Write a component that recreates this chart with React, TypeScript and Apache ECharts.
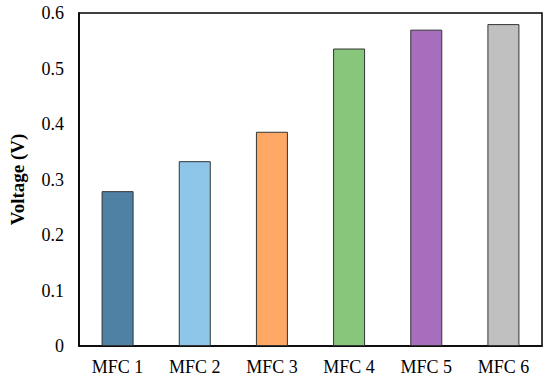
import React, { useEffect, useRef } from "react";
import * as echarts from "echarts";

const categories = ["MFC 1", "MFC 2", "MFC 3", "MFC 4", "MFC 5", "MFC 6"];
const voltages = [0.279, 0.333, 0.386, 0.536, 0.57, 0.58];
const barColors = ["#4F81A5", "#8EC6EA", "#FFA866", "#88C77B", "#A86EBE", "#C0C0C0"];
const yTicks = { min: 0, max: 0.6, interval: 0.1 };

export default function App() {
  const ref = useRef<HTMLDivElement>(null);
  useEffect(() => {
    document.body.style.margin = "0";
    if (!ref.current) return;
    const chart = echarts.init(ref.current, undefined, { renderer: "svg" });
    const font = "'Liberation Serif', 'Times New Roman', serif";
    chart.setOption({
      animation: false,
      backgroundColor: "#ffffff",
      grid: {
        left: 71,
        right: 8,
        top: 13,
        bottom: 34,
        show: true,
        borderColor: "#000",
        borderWidth: 1.5,
        backgroundColor: "transparent",
      },
      xAxis: {
        type: "category",
        data: categories,
        axisLine: { show: true, lineStyle: { color: "#000", width: 1.5 } },
        axisTick: { show: false },
        axisLabel: { color: "#000", fontFamily: font, fontSize: 18, margin: 12 },
      },
      yAxis: {
        type: "value",
        min: yTicks.min,
        max: yTicks.max,
        interval: yTicks.interval,
        name: "Voltage (V)",
        nameLocation: "middle",
        nameGap: 52,
        nameTextStyle: { color: "#000", fontFamily: font, fontSize: 19, fontWeight: "bold" },
        axisLine: { show: true, lineStyle: { color: "#000", width: 1.5 } },
        axisTick: { show: false },
        splitLine: { show: false },
        axisLabel: {
          color: "#000",
          fontFamily: font,
          fontSize: 18,
          margin: 15,
          formatter: (v: number) => (v === 0 ? "0" : String(Math.round(v * 10) / 10)),
        },
      },
      series: [
        {
          type: "bar",
          data: voltages.map((v, i) => ({
            value: v,
            itemStyle: { color: barColors[i] },
          })),
          barWidth: 32,
          itemStyle: { borderColor: "#333", borderWidth: 1 },
        },
      ],
    });
    return () => chart.dispose();
  }, []);
  return <div ref={ref} style={{ width: 550, height: 380 }} />;
}
